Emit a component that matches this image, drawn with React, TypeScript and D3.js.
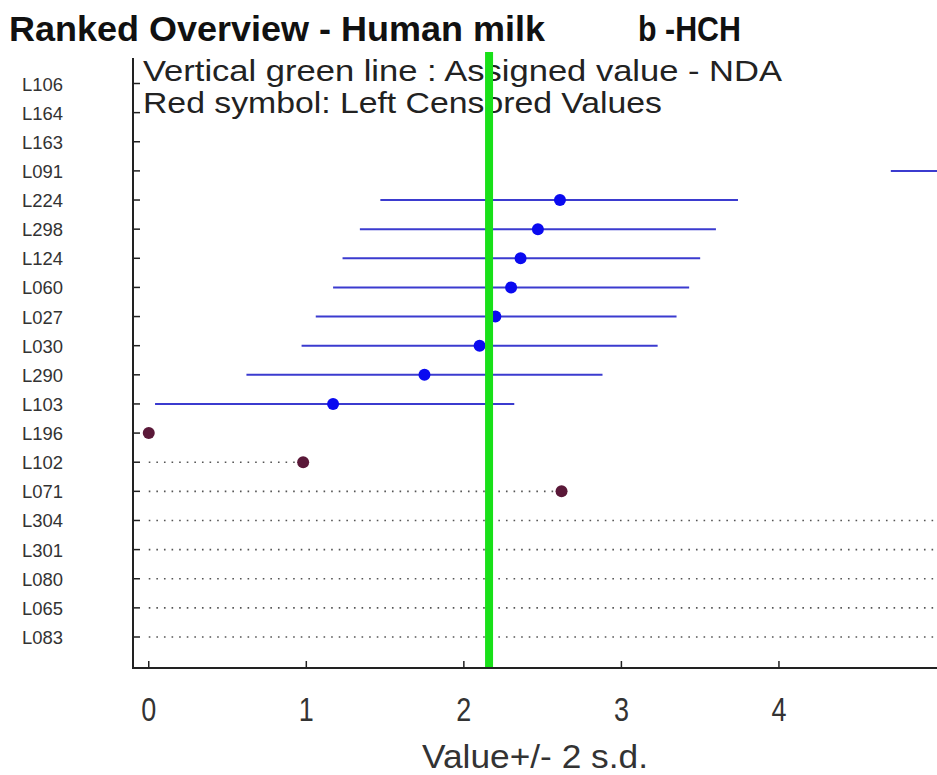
import React from "react";
import * as d3 from "d3";

const labs = ["L106","L164","L163","L091","L224","L298","L124","L060","L027","L030","L290","L103","L196","L102","L071","L304","L301","L080","L065","L083"];
const values = [NaN,NaN,NaN,6.0,2.61,2.47,2.36,2.30,2.20,2.10,1.75,1.17,0,0.98,2.62,6.5,6.6,6.7,6.8,6.9];
const lowers = [NaN,NaN,NaN,4.71,1.47,1.34,1.23,1.17,1.06,0.97,0.62,0.04,NaN,NaN,NaN,NaN,NaN,NaN,NaN,NaN];
const uppers = [NaN,NaN,NaN,7.3,3.74,3.60,3.50,3.43,3.35,3.23,2.88,2.32,NaN,NaN,NaN,NaN,NaN,NaN,NaN,NaN];
const censored = [false,false,false,false,false,false,false,false,false,false,false,false,true,true,true,true,true,true,true,true];
const xTicks = [0,1,2,3,4];
const assigned = 2.16;

const W = 937, H = 775;
const FONT = "Arial, 'Liberation Sans', Helvetica, sans-serif";

export default function App() {
  const x = d3.scaleLinear().domain([-0.1, 5.0]).range([133, 936.5]);
  const y = d3.scalePoint<string>().domain(labs).range([83.5, 637]);
  const axisY = 668;
  const axisX = 133;
  const rows = labs.map((l, i) => ({ l, v: values[i], lo: lowers[i], hi: uppers[i], c: censored[i] }));
  return (
    <svg width={W} height={H} style={{ position: "absolute", left: 0, top: 0, background: "#fff" }}>
      <defs>
        <clipPath id="plot">
          <rect x={axisX} y={45} width={W - axisX} height={axisY - 45} />
        </clipPath>
      </defs>
      <rect x={0} y={0} width={W} height={H} fill="#fff" />
      {/* title */}
      <text x={9} y={41} fontFamily={FONT} fontWeight="bold" fontSize={35} fill="#111" textLength={536} lengthAdjust="spacingAndGlyphs">Ranked Overview - Human milk</text>
      <text x={638} y={41} fontFamily={FONT} fontWeight="bold" fontSize={35} fill="#111" textLength={103} lengthAdjust="spacingAndGlyphs">b -HCH</text>
      {/* legend text */}
      <text x={143} y={81} fontFamily={FONT} fontSize={29} fill="#222" textLength={639} lengthAdjust="spacingAndGlyphs">Vertical green line : Assigned value -  NDA</text>
      <text x={143} y={113} fontFamily={FONT} fontSize={29} fill="#222" textLength={519} lengthAdjust="spacingAndGlyphs">Red symbol: Left Censored Values</text>
      <g clipPath="url(#plot)">
        {rows.map((r) => {
          const yy = y(r.l)!;
          if (!r.c) {
            if (isNaN(r.lo)) return null;
            return (
              <g key={r.l}>
                <line x1={x(r.lo)} x2={x(r.hi)} y1={yy} y2={yy} stroke="#3b3bcf" strokeWidth={2} />
                <circle cx={x(r.v)} cy={yy} r={6} fill="#0a0af0" />
              </g>
            );
          }
          return (
            <g key={r.l}>
              {r.v > 0 && (
                <line x1={x(0)} x2={x(r.v)} y1={yy} y2={yy} stroke="#555" strokeWidth={1.6} strokeDasharray="1.6,6" />
              )}
              <circle cx={x(r.v)} cy={yy} r={6} fill="#5a1838" />
            </g>
          );
        })}
      </g>
      {/* green assigned line */}
      <line x1={x(assigned)} x2={x(assigned)} y1={52} y2={axisY} stroke="#18e018" strokeWidth={8} />
      {/* axes */}
      <line x1={axisX} x2={axisX} y1={58} y2={axisY + 1} stroke="#222" strokeWidth={2} />
      <line x1={axisX - 1} x2={W} y1={axisY} y2={axisY} stroke="#222" strokeWidth={2} />
      {labs.map((l) => (
        <g key={"yt" + l}>
          <line x1={axisX} x2={axisX + 7} y1={y(l)!} y2={y(l)!} stroke="#222" strokeWidth={1.5} />
          <text x={63} y={y(l)! + 7} textAnchor="end" fontFamily={FONT} fontSize={19} fill="#333" textLength={41} lengthAdjust="spacingAndGlyphs">{l}</text>
        </g>
      ))}
      {xTicks.map((t) => (
        <g key={"xt" + t}>
          <line x1={x(t)} x2={x(t)} y1={axisY} y2={axisY - 7} stroke="#222" strokeWidth={1.5} />
          <text x={x(t) - 7.5} y={721} fontFamily={FONT} fontSize={33} fill="#333" textLength={15} lengthAdjust="spacingAndGlyphs">{t}</text>
        </g>
      ))}
      <text x={422} y={768} fontFamily={FONT} fontSize={33} fill="#333" textLength={226} lengthAdjust="spacingAndGlyphs">Value+/- 2 s.d.</text>
    </svg>
  );
}
